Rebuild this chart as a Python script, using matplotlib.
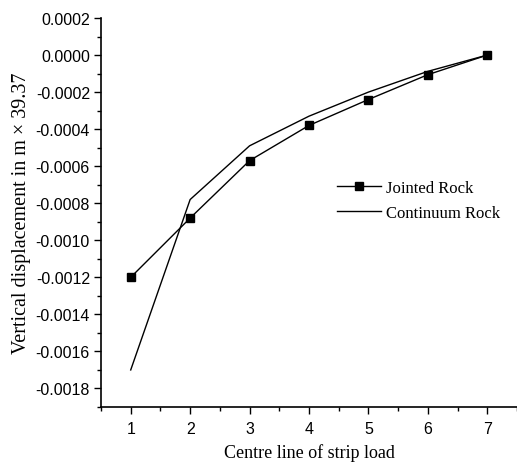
import matplotlib
matplotlib.use("Agg")
import matplotlib.pyplot as plt
from matplotlib.ticker import MultipleLocator, FormatStrFormatter

x = [1, 2, 3, 4, 5, 6, 7]
jointed = [-0.0012, -0.00088, -0.00057, -0.00038, -0.00024, -0.000106, 0.0]
continuum = [-0.0017, -0.00078, -0.00049, -0.00033, -0.00020, -0.000088, 0.0]

fig = plt.figure(figsize=(5.17, 4.64), dpi=100)
ax = fig.add_axes([101/517, 1 - 408/464, 1 - 101/517, (408 - 19)/464])

ax.plot(x, jointed, color='black', lw=1.0, marker='s', markersize=6, label='Jointed Rock')
ax.plot(x, continuum, color='black', lw=1.0, label='Continuum Rock')

ax.set_xlim(0.5, 7.5)
ax.set_ylim(-0.0019, 0.0002)
ax.xaxis.set_major_locator(MultipleLocator(1))
ax.xaxis.set_minor_locator(MultipleLocator(0.5))
ax.yaxis.set_major_locator(MultipleLocator(0.0002))
ax.yaxis.set_minor_locator(MultipleLocator(0.0001))
ax.yaxis.set_major_formatter(FormatStrFormatter('%.4f'))

for s in ['top', 'right']:
    ax.spines[s].set_visible(False)
for s in ['left', 'bottom']:
    ax.spines[s].set_linewidth(1.2)

ax.tick_params(which='major', direction='out', length=5, width=1, labelsize=11.5, pad=3)
ax.tick_params(axis='x', which='major', pad=5)
ax.tick_params(which='minor', direction='out', length=3, width=1)
for lab in ax.get_xticklabels() + ax.get_yticklabels():
    lab.set_family('Liberation Sans')

ax.set_xlabel('Centre line of strip load', family='Liberation Serif', fontsize=13, labelpad=5)
ax.set_ylabel('Vertical displacement in m × 39.37', family='Liberation Serif', fontsize=14.5, labelpad=3)

leg = ax.legend(loc='upper left', bbox_to_anchor=(0.531, 0.623), frameon=False,
                prop={'family': 'Liberation Serif', 'size': 12},
                handlelength=2.64, handletextpad=0.3, labelspacing=0.55)

fig.savefig('out.png', dpi=100)
